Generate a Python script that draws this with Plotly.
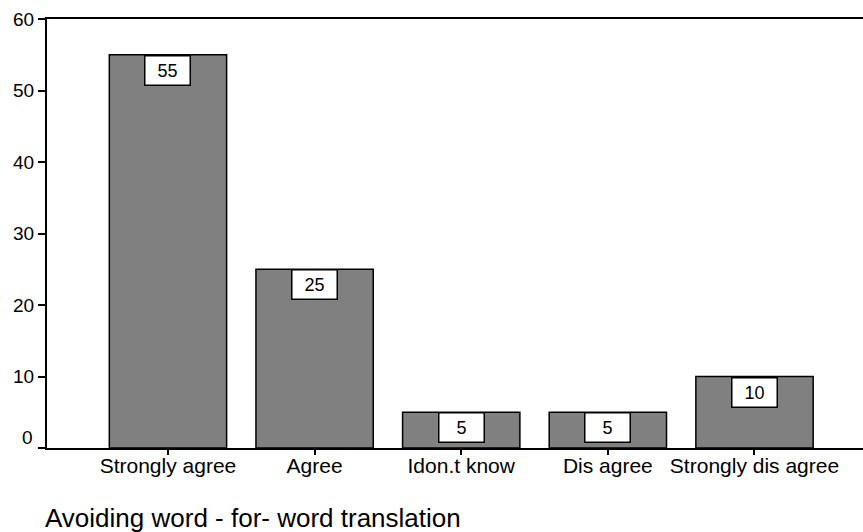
import plotly.graph_objects as go

categories = ["Strongly agree", "Agree", "Idon.t know", "Dis agree", "Strongly dis agree"]
values = [55, 25, 5, 5, 10]
y_ticks = [0, 10, 20, 30, 40, 50, 60]
title_text = "Avoiding word - for- word translation"

W, H = 863, 532
L, R, T, B = 47, 0, 19, 84

fig = go.Figure()
fig.add_trace(go.Bar(
    x=categories, y=values, width=0.8,
    marker=dict(color="#808080", line=dict(color="black", width=1.5)),
    hoverinfo="skip",
))

annotations = []
for c, v in zip(categories, values):
    annotations.append(dict(
        x=c, y=v, xref="x", yref="y", text=str(v), showarrow=False,
        yanchor="top", xanchor="center", yshift=0,
        font=dict(family="Liberation Sans, Arial", size=18, color="black"),
        bgcolor="white", bordercolor="black", borderwidth=1.5, borderpad=2,
        width=40, height=24,
    ))
# zero tick label (drawn slightly above the axis, as in the reference)
annotations.append(dict(
    x=0, y=0, xref="paper", yref="y", text="0", showarrow=False,
    xanchor="right", yanchor="middle", xshift=-12, yshift=11,
    font=dict(family="Liberation Sans, Arial", size=19, color="black"),
))
annotations.append(dict(
    x=-0.005, y=-0.163, xref="paper", yref="paper", text=title_text,
    showarrow=False, xanchor="left", yanchor="middle",
    font=dict(family="Liberation Sans, Arial", size=26, color="black"),
))

fig.update_layout(
    width=W, height=H,
    margin=dict(l=L, r=R, t=T, b=B, pad=0),
    paper_bgcolor="white", plot_bgcolor="white",
    showlegend=False,
    annotations=annotations,
    font=dict(family="Liberation Sans, Arial", color="black"),
)
fig.update_xaxes(
    range=[-0.825, 4.74], showgrid=False, zeroline=False,
    showline=True, linecolor="black", linewidth=2, mirror=True,
    ticks="outside", ticklen=5, tickwidth=1.5, tickcolor="black",
    ticklabelstandoff=-7,
    tickfont=dict(size=21, family="Liberation Sans, Arial", color="black"),
)
fig.update_yaxes(
    range=[0, 60], tickvals=y_ticks[1:], showgrid=False, zeroline=False,
    showline=True, linecolor="black", linewidth=2,
    ticks="outside", ticklen=7, tickwidth=1.5, tickcolor="black",
    tickfont=dict(size=19, family="Liberation Sans, Arial", color="black"),
)
fig.update_yaxes(minor=dict(tickvals=[0], ticks="outside", ticklen=7, tickwidth=1.5, tickcolor="black"))

fig.write_html("out.html", config={"displayModeBar": False},
               post_script="document.body.style.margin='0';document.body.style.overflow='hidden';")
